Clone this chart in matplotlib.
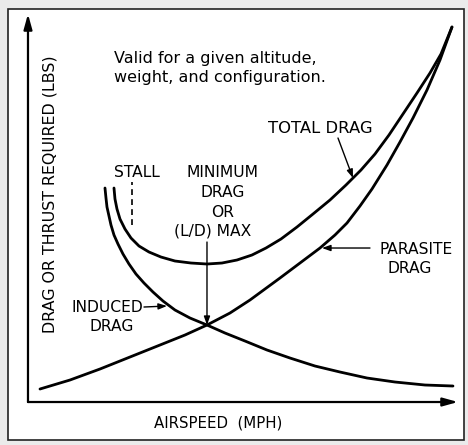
import matplotlib.pyplot as plt
from matplotlib.patches import Rectangle

# airspeed / drag in arbitrary units (no scale on the chart)
parasite_x = [12, 42, 72, 102, 132, 157, 179, 202, 222, 252, 272, 292, 307, 319,
              332, 344, 359, 372, 385, 399, 412, 424]
parasite_y = [13, 22, 33, 45, 57, 67, 77, 89, 102, 124, 139, 154, 167, 179,
              196, 213, 237, 260, 284, 312, 342, 375]

induced_x = [77, 78, 79, 81, 83, 86, 90, 95, 101, 108, 116, 125, 135, 147, 162,
             179, 197, 217, 239, 262, 287, 312, 339, 367, 397, 425]
induced_y = [214, 204, 195, 186, 177, 167, 158, 148, 138, 128, 119, 110, 101, 92, 84,
             77, 69, 61, 52, 44, 36, 30, 24, 20, 17, 16]

total_x = [86, 87, 89, 92, 97, 103, 111, 121, 133, 147, 163, 179, 194, 209, 224,
           238, 253, 269, 285, 302, 318, 333, 347, 361, 375, 389, 402, 413, 424]
total_y = [214, 203, 193, 183, 173, 164, 156, 150, 145, 141, 139, 138, 139, 142, 147,
           154, 163, 175, 188, 202, 217, 232, 248, 267, 288, 309, 329, 348, 375]

stall_x = 104
stall_y = [177, 220]
min_drag_x = 179
min_drag_y = [160, 77]

fig = plt.figure(figsize=(4.68, 4.45), dpi=100)
fig.patch.set_facecolor('#ebebeb')
fig.patches.append(Rectangle((0.017, 0.011), 0.975, 0.969, transform=fig.transFigure,
                             facecolor='white', edgecolor='#222222', lw=1.2, zorder=-1))

ax = fig.add_axes([0.0598, 0.0966, 0.9188, 0.8719])
ax.set_facecolor('none')
ax.set_xlim(0, 430)
ax.set_ylim(0, 388)
ax.axis('off')

lw = 2.0
for xs, ys in [(parasite_x, parasite_y), (induced_x, induced_y), (total_x, total_y)]:
    ax.plot(xs, ys, color='black', lw=lw, solid_capstyle='round',
            solid_joinstyle='round', clip_on=False)
ax.plot([stall_x, stall_x], stall_y, color='black', lw=1.2, ls=(0, (3.5, 2.5)))

arrow = dict(arrowstyle='-|>,head_length=0.5,head_width=0.18', color='black', lw=1.0,
             shrinkA=0, shrinkB=0)
axis_arrow = dict(arrowstyle='-|>,head_length=0.9,head_width=0.25', color='black', lw=1.6,
                  shrinkA=0, shrinkB=0)

# axes with arrow heads
ax.annotate('', xy=(0, 388), xytext=(0, 0), arrowprops=axis_arrow, annotation_clip=False)
ax.annotate('', xy=(430, 0), xytext=(0, 0), arrowprops=axis_arrow, annotation_clip=False)

ax.annotate('', xy=(min_drag_x, min_drag_y[1]), xytext=(min_drag_x, min_drag_y[0]),
            arrowprops=arrow)
ax.annotate('', xy=(325, 224), xytext=(310, 264), arrowprops=arrow)
ax.annotate('', xy=(294, 154), xytext=(342, 154), arrowprops=arrow)
ax.annotate('', xy=(139, 96), xytext=(116, 95), arrowprops=arrow)

fs = 11.2
ax.text(86, 344, 'Valid for a given altitude,', fontsize=11.5, va='center', ha='left')
ax.text(86, 325, 'weight, and configuration.', fontsize=11.5, va='center', ha='left')
ax.text(292, 274, 'TOTAL DRAG', fontsize=11.8, ha='center', va='center')
ax.text(388, 153, 'PARASITE', fontsize=fs, ha='center', va='center')
ax.text(382, 134, 'DRAG', fontsize=fs, ha='center', va='center')
ax.text(79, 95, 'INDUCED', fontsize=fs, ha='center', va='center')
ax.text(84, 76, 'DRAG', fontsize=fs, ha='center', va='center')
ax.text(109, 230, 'STALL', fontsize=fs, ha='center', va='center')
ax.text(195, 230, 'MINIMUM', fontsize=fs, ha='center', va='center')
ax.text(195, 210, 'DRAG', fontsize=fs, ha='center', va='center')
ax.text(195, 190, 'OR', fontsize=fs, ha='center', va='center')
ax.text(185, 171, '(L/D) MAX', fontsize=fs, ha='center', va='center')

ax.text(22, 208, 'DRAG OR THRUST REQUIRED (LBS)', fontsize=11.4, rotation=90,
        ha='center', va='center')
ax.text(190, -21, 'AIRSPEED  (MPH)', fontsize=10.8, ha='center', va='center')

fig.savefig('out.png', dpi=100, facecolor=fig.get_facecolor())
